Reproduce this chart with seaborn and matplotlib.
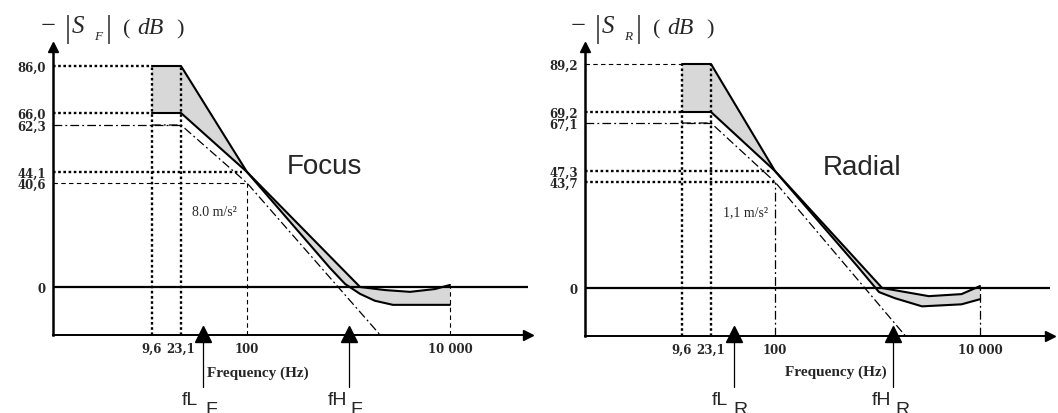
import numpy as np
import matplotlib.pyplot as plt
import seaborn as sns

sns.set_style("white")

W, H = 1058, 414

# schematic frequency axis, same ticks on both panels
freq_ticks = [9.6, 23.1, 100, 10000]
freq_labels = ['9,6', '23,1', '100', '10 000']

# Focus panel
focus_yticks = [86.0, 66.0, 62.3, 44.1, 40.6, 0]
focus_ylabels = ['86,0', '66,0', '62,3', '44,1', '40,6', '0']
focus_upper_f = [9.6, 23.1, 100, 1300, 2290, 4040, 7110, 10000]
focus_upper_db = [86.0, 86.0, 44.1, 0, -1.2, -1.9, -0.8, 0.8]
focus_lower_f = [9.6, 23.1, 100, 658, 925, 1300, 1820, 2740, 10000]
focus_lower_db = [66.0, 66.0, 44.1, 7.4, 1.2, -2.7, -5.4, -7.0, -7.0]
focus_asym_f = [9.6, 23.1, 100, 2040]
focus_asym_db = [62.3, 62.3, 40.6, -18.7]

# Radial panel
radial_yticks = [89.2, 69.2, 67.1, 47.3, 43.7, 0]
radial_ylabels = ['89,2', '69,2', '67,1', '47,3', '43,7', '0']
radial_upper_f = [9.6, 23.1, 100, 1110, 3170, 6600, 10000]
radial_upper_db = [89.2, 89.2, 47.3, 0, -3.2, -2.4, 0.8]
radial_lower_f = [9.6, 23.1, 100, 630, 1035, 1480, 2720, 6600, 10000]
radial_lower_db = [69.2, 69.2, 47.3, 9.2, -1.6, -4.0, -7.2, -6.4, -4.4]
radial_asym_f = [9.6, 23.1, 100, 1900]
radial_asym_db = [67.1, 67.1, 43.7, -19.1]

DOT = dict(color='k', lw=1.7, ls=(0, (1.1, 1.1)))
DASH = dict(color='k', lw=0.8, ls=(0, (4, 3)))
DDOT = dict(color='k', lw=0.9, ls=(0, (7, 2.5, 1.5, 2.5)))


def piecewise(vals, pix, slope):
    # the drawing is schematic: ticks sit at hand-placed pixel positions
    order = np.argsort(vals)
    v = np.asarray(vals, float)[order]
    p = np.asarray(pix, float)[order]
    ve = np.r_[v[0] - 100, v, v[-1] + 100]
    pe = np.r_[p[0] - 100 * slope, p, p[-1] + 100 * slope]

    def fwd(x):
        return np.interp(x, ve, pe)

    def inv(q):
        return np.interp(q, pe, ve)
    return fwd, inv


fig = plt.figure(figsize=(W / 100, H / 100), dpi=100)


def panel(x0, x1, ytop, ybot, xpx, ypx, yticks, ylabels,
          up_f, up_db, lo_f, lo_db, as_f, as_db, refs):
    ax = fig.add_axes([x0 / W, 1 - ybot / H, (x1 - x0) / W, (ybot - ytop) / H])
    lf, lfi = piecewise(np.log10(freq_ticks), xpx, 101.5)
    fx = lambda f: lf(np.log10(np.maximum(f, 1e-12)))
    fxi = lambda p: 10 ** lfi(p)
    ax.set_xscale('function', functions=(fx, fxi))
    gy, gyi = piecewise(yticks, [-p for p in ypx], 2.55)
    ax.set_yscale('function', functions=(gy, gyi))
    ax.set_xlim(fxi(x0), fxi(x1))
    ylo, yhi = gyi(-ybot), gyi(-ytop)
    ax.set_ylim(ylo, yhi)
    xl = fxi(x0)

    ax.fill(np.r_[up_f, lo_f[::-1]], np.r_[up_db, lo_db[::-1]],
            color='#d8d8d8', lw=0, zorder=1)
    sns.lineplot(x=up_f, y=up_db, ax=ax, color='k', lw=1.5, sort=False, estimator=None, zorder=4)
    sns.lineplot(x=lo_f, y=lo_db, ax=ax, color='k', lw=1.5, sort=False, estimator=None, zorder=4)
    ax.plot(as_f, as_db, zorder=3, **DDOT)

    # guide lines to the axes
    for kind, orient, v, b in refs:
        st = {'dot': DOT, 'dash': DASH, 'ddot': DDOT}[kind]
        if orient == 'h':
            ax.plot([xl, b], [v, v], zorder=2, **st)
        else:
            ax.plot([v, v], [ylo, b], zorder=2, **st)

    ax.axhline(0, color='k', lw=1.6, zorder=5)
    for s in ['top', 'right']:
        ax.spines[s].set_visible(False)
    ax.spines['left'].set_linewidth(1.8)
    ax.spines['bottom'].set_linewidth(1.4)
    ax.spines['left'].set_color('k')
    ax.spines['bottom'].set_color('k')
    ax.plot(0, 1, '^k', ms=7, transform=ax.transAxes, clip_on=False)
    ax.plot(1, 0, '>k', ms=7, transform=ax.transAxes, clip_on=False)

    ax.set_xticks(freq_ticks, freq_labels)
    ax.xaxis.set_minor_locator(plt.NullLocator())
    ax.set_yticks(yticks, ylabels)
    ax.yaxis.set_minor_locator(plt.NullLocator())
    ax.tick_params(length=0, pad=5)
    for t in ax.get_xticklabels() + ax.get_yticklabels():
        t.set_fontfamily('DejaVu Serif')
        t.set_fontweight('bold')
        t.set_fontsize(8.5)
    ax.set_xlabel('')
    ax.set_ylabel('')
    ax.patch.set_alpha(0)
    return ax


panel(53, 528, 48, 336, [152, 181, 247, 450], [67, 114, 126, 173, 184, 288],
      focus_yticks, focus_ylabels,
      focus_upper_f, focus_upper_db, focus_lower_f, focus_lower_db,
      focus_asym_f, focus_asym_db,
      [('dot', 'h', 86.0, 9.6), ('dot', 'h', 66.0, 9.6),
       ('ddot', 'h', 62.3, 23.1), ('dot', 'h', 44.1, 90),
       ('dash', 'h', 40.6, 100),
       ('dot', 'v', 9.6, 86.0), ('dot', 'v', 23.1, 86.0),
       ('dash', 'v', 100, 40.6), ('dash', 'v', 10000, 0)])

panel(585, 1050, 48, 337, [682, 711, 775, 980], [65, 113, 124, 172, 183, 289],
      radial_yticks, radial_ylabels,
      radial_upper_f, radial_upper_db, radial_lower_f, radial_lower_db,
      radial_asym_f, radial_asym_db,
      [('dash', 'h', 89.2, 9.6), ('dot', 'h', 69.2, 9.6),
       ('ddot', 'h', 67.1, 23.1), ('dot', 'h', 47.3, 90),
       ('dot', 'h', 43.7, 100),
       ('dot', 'v', 9.6, 89.2), ('dot', 'v', 23.1, 89.2),
       ('ddot', 'v', 100, 43.7), ('ddot', 'v', 10000, 0)])

# overlay in image pixels for free text and the marker arrows
ov = fig.add_axes([0, 0, 1, 1])
ov.set_xlim(0, W)
ov.set_ylim(H, 0)
ov.axis('off')

serif = 'Liberation Serif'
# axis titles  - |S_F| (dB )
for dx, sub in [(0, 'F'), (530, 'R')]:
    ov.text(41 + dx, 27, '−', family=serif, fontsize=19, va='center')
    ov.text(65 + dx, 30, '|', family=serif, fontsize=22, va='center')
    ov.text(72 + dx, 33, 'S', family=serif, style='italic', fontsize=18, va='baseline')
    ov.text(94 + dx, 40, sub, family=serif, style='italic', fontsize=9.5, va='baseline')
    ov.text(106 + dx, 30, '|', family=serif, fontsize=22, va='center')
    ov.text(123 + dx, 34, '(', family=serif, fontsize=16, va='baseline')
    ov.text(137 + dx, 34, 'dB', family=serif, style='italic', fontsize=17, va='baseline')
    ov.text(176 + dx, 34, ')', family=serif, fontsize=16, va='baseline')

ov.text(258, 373, 'Frequency (Hz)', family=serif, weight='bold', fontsize=11, ha='center', va='center')
ov.text(836, 372, 'Frequency (Hz)', family=serif, weight='bold', fontsize=11, ha='center', va='center')
ov.text(192, 213, '8.0 m/s²', family=serif, fontsize=10, va='center')
ov.text(723, 213, '1,1 m/s²', family=serif, fontsize=10, va='center')
ov.text(287, 167, 'Focus', family='Liberation Sans', fontsize=20, va='center')
ov.text(823, 168, 'Radial', family='Liberation Sans', fontsize=20, va='center')

for x, main, sub, xm, xs in [(203, 'fL', 'F', 182, 205), (349, 'fH', 'F', 328, 350),
                              (734, 'fL', 'R', 712, 733), (893, 'fH', 'R', 872, 895)]:
    ov.plot([x, x], [388, 336], color='k', lw=0.9)
    ov.plot(x, 335, marker='^', ms=12, color='k')
    ov.text(xm, 405, main, family='Liberation Sans', fontsize=14, va='baseline')
    ov.text(xs, 415, sub, family='Liberation Sans', fontsize=14, va='baseline')

fig.savefig('out.png', dpi=100)
